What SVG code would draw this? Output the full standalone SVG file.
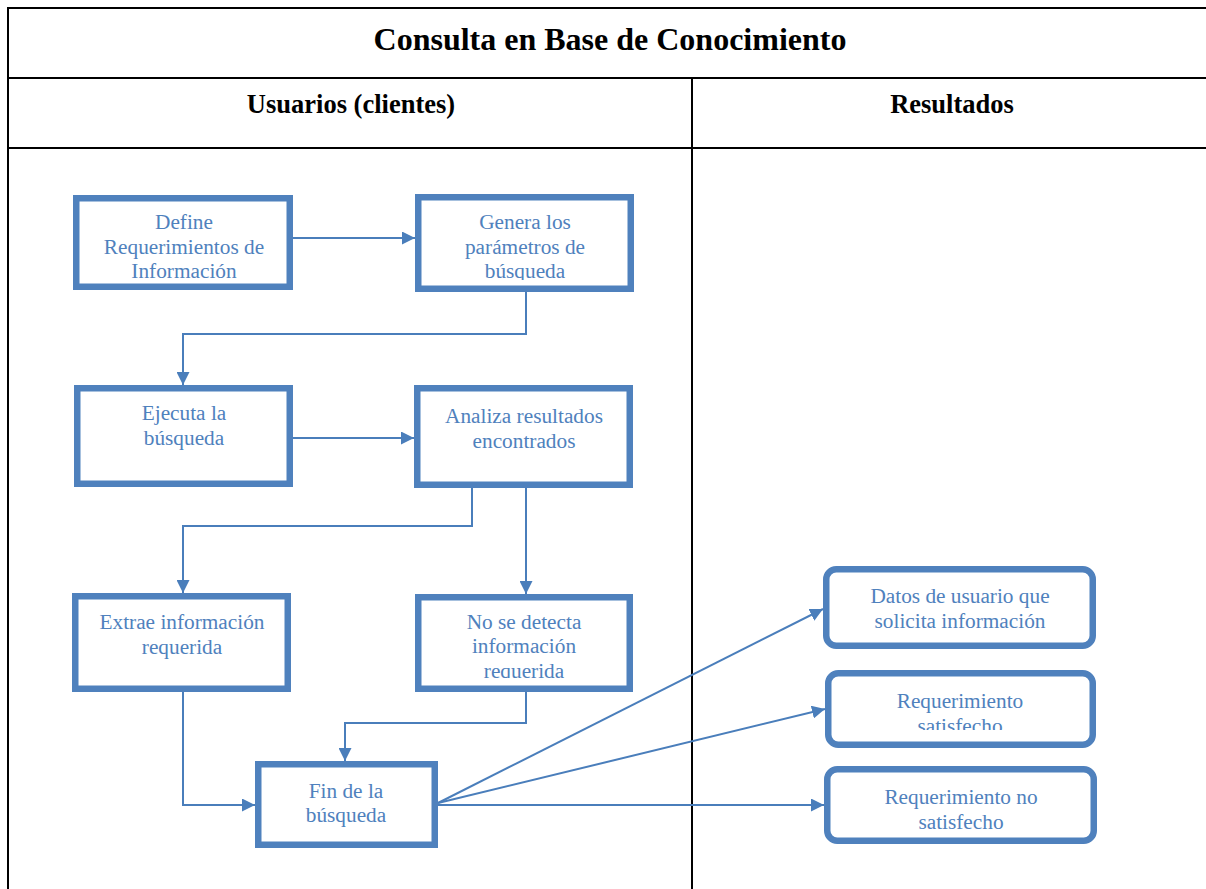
<svg xmlns="http://www.w3.org/2000/svg" width="1206" height="889" viewBox="0 0 1206 889">
<style>
.grid{stroke:#000;stroke-width:2;fill:none}
.h1{font-family:"Liberation Serif","Times New Roman",serif;font-weight:bold;font-size:32px;fill:#000;text-anchor:middle}
.h2{font-family:"Liberation Serif","Times New Roman",serif;font-weight:bold;font-size:26.5px;fill:#000;text-anchor:middle}
.box{fill:#fff;stroke:#4f81bd;stroke-width:6.5}
.t{font-family:"Liberation Serif","Times New Roman",serif;font-size:21.3px;fill:#4f81bd;text-anchor:middle}
.c{fill:none;stroke:#4a7ebb;stroke-width:2}
</style>
<defs>
<marker id="ah" viewBox="0 0 13 13" refX="13" refY="6.5" markerWidth="13" markerHeight="13" markerUnits="userSpaceOnUse" orient="auto">
<path d="M0,0 L13,6.5 L0,13 Z" fill="#4a7ebb"/>
</marker>
<clipPath id="cp2"><rect x="418" y="198" width="213" height="82"/></clipPath>
<clipPath id="cp6"><rect x="418" y="598" width="213" height="80"/></clipPath>
<clipPath id="cpr2"><rect x="828" y="674" width="266" height="56"/></clipPath>
</defs>
<rect width="1206" height="889" fill="#fff"/>
<g id="table">
<line class="grid" x1="8" y1="8" x2="1206" y2="8"/>
<line class="grid" x1="8" y1="7" x2="8" y2="889"/>
<line class="grid" x1="8" y1="78" x2="1206" y2="78"/>
<line class="grid" x1="8" y1="148" x2="1206" y2="148"/>
<line class="grid" x1="692" y1="78" x2="692" y2="889"/>
<text class="h1" x="610" y="50">Consulta en Base de Conocimiento</text>
<text class="h2" x="351" y="113">Usuarios (clientes)</text>
<text class="h2" x="952" y="113">Resultados</text>
</g>
<g id="connectors">
<line class="c" x1="293" y1="238" x2="415" y2="238" marker-end="url(#ah)"/>
<polyline class="c" points="526,292 526,334 183,334 183,385" marker-end="url(#ah)"/>
<line class="c" x1="293" y1="438" x2="414" y2="438" marker-end="url(#ah)"/>
<polyline class="c" points="472,488 472,526 183,526 183,593" marker-end="url(#ah)"/>
<line class="c" x1="526" y1="488" x2="526" y2="594" marker-end="url(#ah)"/>
<polyline class="c" points="183,692 183,805 255,805" marker-end="url(#ah)"/>
<polyline class="c" points="526,692 526,723 345,723 345,761" marker-end="url(#ah)"/>
<line class="c" x1="438" y1="803" x2="823" y2="609" marker-end="url(#ah)"/>
<line class="c" x1="438" y1="803" x2="825" y2="709" marker-end="url(#ah)"/>
<line class="c" x1="438" y1="805" x2="824" y2="805" marker-end="url(#ah)"/>
</g>
<g id="n1">
<rect class="box" x="76.25" y="198.25" width="213.5" height="88.5"/>
<text class="t" x="184" y="229">Define</text>
<text class="t" x="184" y="254">Requerimientos de</text>
<text class="t" x="184" y="278">Información</text>
</g>
<g id="n2">
<rect class="box" x="418.25" y="197.25" width="212.5" height="91.5"/>
<g clip-path="url(#cp2)">
<text class="t" x="525" y="229">Genera los</text>
<text class="t" x="525" y="254">parámetros de</text>
<text class="t" x="525" y="278">búsqueda</text>
</g>
</g>
<g id="n3">
<rect class="box" x="77.25" y="388.25" width="212.5" height="95.5"/>
<text class="t" x="184" y="420">Ejecuta la</text>
<text class="t" x="184" y="445">búsqueda</text>
</g>
<g id="n4">
<rect class="box" x="417.25" y="388.25" width="212.5" height="96.5"/>
<text class="t" x="524" y="423">Analiza resultados</text>
<text class="t" x="524" y="448">encontrados</text>
</g>
<g id="n5">
<rect class="box" x="75.25" y="596.25" width="212.5" height="92.5"/>
<text class="t" x="182" y="629">Extrae información</text>
<text class="t" x="182" y="654">requerida</text>
</g>
<g id="n6">
<rect class="box" x="418.25" y="597.25" width="211.5" height="91.5"/>
<g clip-path="url(#cp6)">
<text class="t" x="524" y="629">No se detecta</text>
<text class="t" x="524" y="653">información</text>
<text class="t" x="524" y="678">requerida</text>
</g>
</g>
<g id="n7">
<rect class="box" x="258.25" y="764.25" width="176.5" height="80.5"/>
<text class="t" x="346" y="798">Fin de la</text>
<text class="t" x="346" y="822">búsqueda</text>
</g>
<g id="r1">
<rect class="box" x="826.25" y="569.25" width="266.5" height="76.5" rx="10"/>
<text class="t" x="960" y="603">Datos de usuario que</text>
<text class="t" x="960" y="628">solicita información</text>
</g>
<g id="r2">
<rect class="box" x="828.25" y="673.25" width="264.5" height="71.5" rx="10"/>
<g clip-path="url(#cpr2)">
<text class="t" x="960" y="708">Requerimiento</text>
<text class="t" x="960" y="733">satisfecho</text>
</g>
</g>
<g id="r3">
<rect class="box" x="827.25" y="769.25" width="266.5" height="71.5" rx="10"/>
<text class="t" x="961" y="804">Requerimiento no</text>
<text class="t" x="961" y="829">satisfecho</text>
</g>
</svg>
